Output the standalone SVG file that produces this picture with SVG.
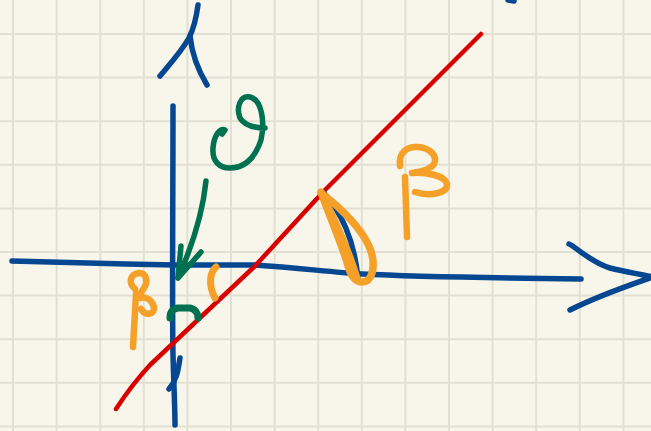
<svg xmlns="http://www.w3.org/2000/svg" width="651" height="431" viewBox="0 0 651 431">
<style>
.grid{stroke:#e2e0d2;stroke-width:2;fill:none}
.s{fill:none;stroke-linecap:round;stroke-linejoin:round}
.blue{stroke:#054791;stroke-width:5.5}
.red{stroke:#d90000;stroke-width:4.5}
.green{stroke:#007150;stroke-width:5.5}
.orange{stroke:#f5a028;stroke-width:6.5}
</style>
<rect width="651" height="431" fill="#f8f6ea"/>
<path class="grid" d="M13,0V431M56.6,0V431M100.2,0V431M143.8,0V431M187.4,0V431M231,0V431M274.6,0V431M318.2,0V431M361.8,0V431M405.4,0V431M449,0V431M492.6,0V431M536.2,0V431M579.8,0V431M623.4,0V431M0,34H651M0,77.6H651M0,121.2H651M0,164.8H651M0,208.4H651M0,252H651M0,295.6H651M0,339.2H651M0,382.8H651M0,426.4H651"/>
<g id="connectors">
<g id="y-axis">
<path class="s blue" d="M173,106 C173,200 172,300 173,355 C174,390 175,410 175,425"/>
<path class="s blue" d="M180,358 C178,370 177,380 169,389"/>
<path class="s blue" d="M198,5 C196,20 193,30 189,38 C181,52 169,65 160,76"/>
<path class="s blue" d="M190,36 C192,55 198,70 207,85"/>
</g>
<g id="x-axis">
<path class="s blue" d="M12,261 C60,262 120,264 175,265 L255,265 C300,268 330,272 362,274 C420,277 500,278 581,279"/>
<path class="s blue" d="M569,244 C575,246 590,262 610,268 C625,272 640,274 653,277 C630,285 600,295 570,310"/>
<path class="s blue" d="M508,0 L514,1"/>
</g>
<g id="red-line">
<path class="s red" d="M116,409 C127,392 138,378 150,365 L255,266 L323,192 L481,34"/>
</g>
</g>
<g id="angle-right">
<path class="s blue" d="M323,192 C340,210 355,240 358,280"/>
<path class="s orange" d="M321,192 C328,212 340,240 347,262 C350,274 354,282 362,282 C372,282 375,268 372,255 C368,238 352,220 338,207 C330,200 325,196 321,193" style="stroke-width:7.5"/>
<path class="s orange" d="M324,196 C336,220 350,250 358,278" style="stroke-width:5"/>
</g>
<g id="beta-right">
<path class="s orange" d="M400,166 C398,152 408,146 418,147 C430,148 438,156 434,164 C430,170 420,172 412,173 C425,172 445,175 447,184 C448,193 430,197 415,192"/>
<path class="s orange" d="M405,177 L407,237"/>
</g>
<g id="beta-left">
<path class="s orange" d="M135,289 C128,283 130,274 139,273 C147,273 148,282 144,288 C141,293 137,297 140,298 C146,296 152,300 154,307 C155,314 146,317 141,309"/>
<path class="s orange" d="M136,294 C135,310 134,330 133,347"/>
</g>
<g id="angle-small">
<path class="s orange" d="M216,267 C210,272 208,285 215,298" style="stroke-width:7"/>
</g>
<g id="theta">
<path class="s green" d="M222,134 L225,130 C220,128 214,135 213,148 C212,162 220,168 230,168 C245,168 255,158 261,140 C265,122 262,100 250,97 C240,95 236,108 240,118 C245,126 255,128 265,128"/>
</g>
<g id="theta-arrow">
<path class="s green" d="M206,181 C203,210 195,240 178,278"/>
<path class="s green" d="M181,246 L178,278 L201,252"/>
</g>
<g id="right-angle">
<path class="s green" d="M170,318 C170,312 172,309 178,308 L190,308 C195,309 198,313 198,318" style="stroke-width:7"/>
</g>
</svg>
